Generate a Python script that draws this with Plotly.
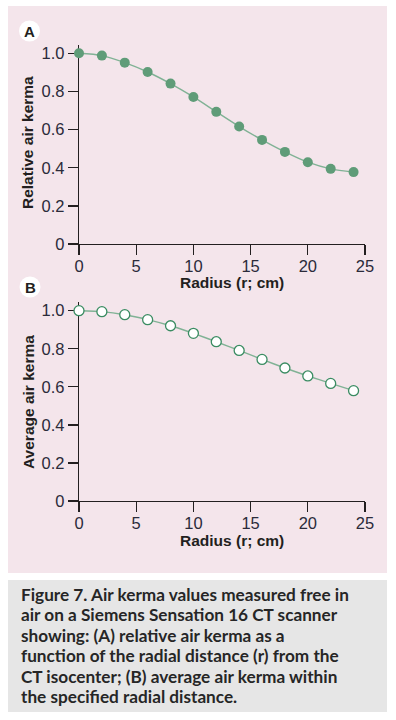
import plotly.graph_objects as go

# ---------------- data ----------------
radius = [0, 2, 4, 6, 8, 10, 12, 14, 16, 18, 20, 22, 24]
relative_kerma = [1.0, 0.988, 0.951, 0.902, 0.841, 0.771, 0.693, 0.616, 0.546, 0.483, 0.429, 0.394, 0.377]
average_kerma = [1.0, 0.995, 0.979, 0.953, 0.921, 0.881, 0.837, 0.791, 0.744, 0.699, 0.657, 0.618, 0.580]
x_ticks = [0, 5, 10, 15, 20, 25]
y_ticks = [0, 0.2, 0.4, 0.6, 0.8, 1.0]
y_tick_labels = ["0", "0.2", "0.4", "0.6", "0.8", "1.0"]
x_title = "Radius (r; cm)"
y_title_a = "Relative air kerma"
y_title_b = "Average air kerma"
panel_labels = ["A", "B"]
caption_lines = [
    "Figure 7. Air kerma values measured free in",
    "air on a Siemens Sensation 16 CT scanner",
    "showing: (A) relative air kerma as a",
    "function of the radial distance (r) from the",
    "CT isocenter; (B) average air kerma within",
    "the specified radial distance.",
]

# ---------------- geometry helpers ----------------
W, H = 396, 720


def px(x):
    return x / W


def py(y):
    return 1 - y / H


PINK = "#f4e5eb"
GREY = "#e6e6e6"
AXIS = "#231f20"
TEXT = "#231f20"
GREEN_FILL = "#5f9c78"
GREEN_LINE = "#80b295"
GREEN_EDGE = "#3a8c62"

fig = go.Figure()

fig.add_trace(go.Scatter(
    x=radius, y=relative_kerma, mode="lines+markers",
    line=dict(color=GREEN_LINE, width=1.4, shape="spline", smoothing=0.8),
    marker=dict(size=10, color=GREEN_FILL, line=dict(width=0)),
    cliponaxis=False, xaxis="x", yaxis="y", showlegend=False,
))
fig.add_trace(go.Scatter(
    x=radius, y=average_kerma, mode="lines+markers",
    line=dict(color=GREEN_LINE, width=1.4, shape="spline", smoothing=0.5),
    marker=dict(size=10, color="white", line=dict(width=1.3, color=GREEN_EDGE)),
    cliponaxis=False, xaxis="x2", yaxis="y2", showlegend=False,
))

tick_font = dict(family="Liberation Sans, Arial, sans-serif", size=16.5, color="#2b2b3a")
common_x = dict(
    range=[0, 25], tickvals=x_ticks, showgrid=False, zeroline=False,
    showline=True, linecolor=AXIS, linewidth=1.3, ticks="outside",
    ticklen=10, tickwidth=1.3, tickcolor=AXIS, tickfont=tick_font,
    ticklabelstandoff=-3,
    layer="below traces", fixedrange=True, automargin=False,
)
common_y = dict(
    tickvals=y_ticks, ticktext=y_tick_labels, showgrid=False, zeroline=False,
    showline=True, linecolor=AXIS, linewidth=1.3, ticks="outside",
    ticklen=10, tickwidth=1.3, tickcolor=AXIS, tickfont=tick_font,
    layer="below traces", fixedrange=True, automargin=False,
)

# panel A: x 79..365, y 45..244 px ; panel B: y 302..501 px
xa_dom = [px(79), px(365)]
fig.update_layout(
    width=W, height=H,
    margin=dict(l=0, r=0, t=0, b=0, autoexpand=False),
    paper_bgcolor="white",
    plot_bgcolor="white",
    xaxis=dict(domain=xa_dom, anchor="y", **common_x),
    yaxis=dict(domain=[py(244), py(45)], anchor="x", range=[0, (244 - 45) / 190.7], **common_y),
    xaxis2=dict(domain=xa_dom, anchor="y2", **common_x),
    yaxis2=dict(domain=[py(501), py(302)], anchor="x2", range=[0, (501 - 302) / 190.3], **common_y),
)

shapes = [
    dict(type="rect", xref="paper", yref="paper", x0=px(8), x1=px(387), y0=py(573), y1=py(6),
         fillcolor=PINK, line=dict(width=0), layer="below"),
    dict(type="rect", xref="paper", yref="paper", x0=px(8), x1=px(387), y0=py(712), y1=py(580),
         fillcolor=GREY, line=dict(width=0), layer="below"),
]
label_centers = [(29.5, 31), (30, 287)]
for cx, cy in label_centers:
    shapes.append(dict(type="circle", xref="paper", yref="paper",
                       x0=px(cx - 10.5), x1=px(cx + 10.5), y0=py(cy + 10.5), y1=py(cy - 10.5),
                       fillcolor="white", line=dict(width=0), layer="below"))
fig.update_layout(shapes=shapes)

title_font = dict(family="Liberation Sans, Arial, sans-serif", size=15.5, color=TEXT, weight="bold")
ann = []
for (cx, cy), lab in zip(label_centers, panel_labels):
    ann.append(dict(text=lab, x=px(cx), y=py(cy + 0.5), xref="paper", yref="paper",
                    showarrow=False, xanchor="center", yanchor="middle",
                    font=dict(family="Liberation Sans, Arial, sans-serif", size=15, color=TEXT, weight="bold")))
ann.append(dict(text=x_title, x=px(232), y=py(283), xref="paper", yref="paper", showarrow=False,
                xanchor="center", yanchor="middle", font=title_font))
ann.append(dict(text=x_title, x=px(232), y=py(540), xref="paper", yref="paper", showarrow=False,
                xanchor="center", yanchor="middle", font=title_font))
ann.append(dict(text=y_title_a, x=px(28), y=py(143), xref="paper", yref="paper", showarrow=False,
                textangle=-90, xanchor="center", yanchor="middle", font=title_font))
ann.append(dict(text=y_title_b, x=px(28), y=py(402), xref="paper", yref="paper", showarrow=False,
                textangle=-90, xanchor="center", yanchor="middle", font=title_font))

cap_font = dict(family="Lato, Open Sans, sans-serif", size=17.2, color="#262626", weight="bold")
for i, line in enumerate(caption_lines):
    ann.append(dict(text=line, x=px(19), y=py(594 + i * 20.5), xref="paper", yref="paper",
                    showarrow=False, xanchor="left", yanchor="middle", font=cap_font))
fig.update_layout(annotations=ann)

fig.write_html(
    "out.html",
    config={"displayModeBar": False, "staticPlot": True},
    post_script="document.body.style.margin='0';document.body.style.overflow='hidden';",
)
